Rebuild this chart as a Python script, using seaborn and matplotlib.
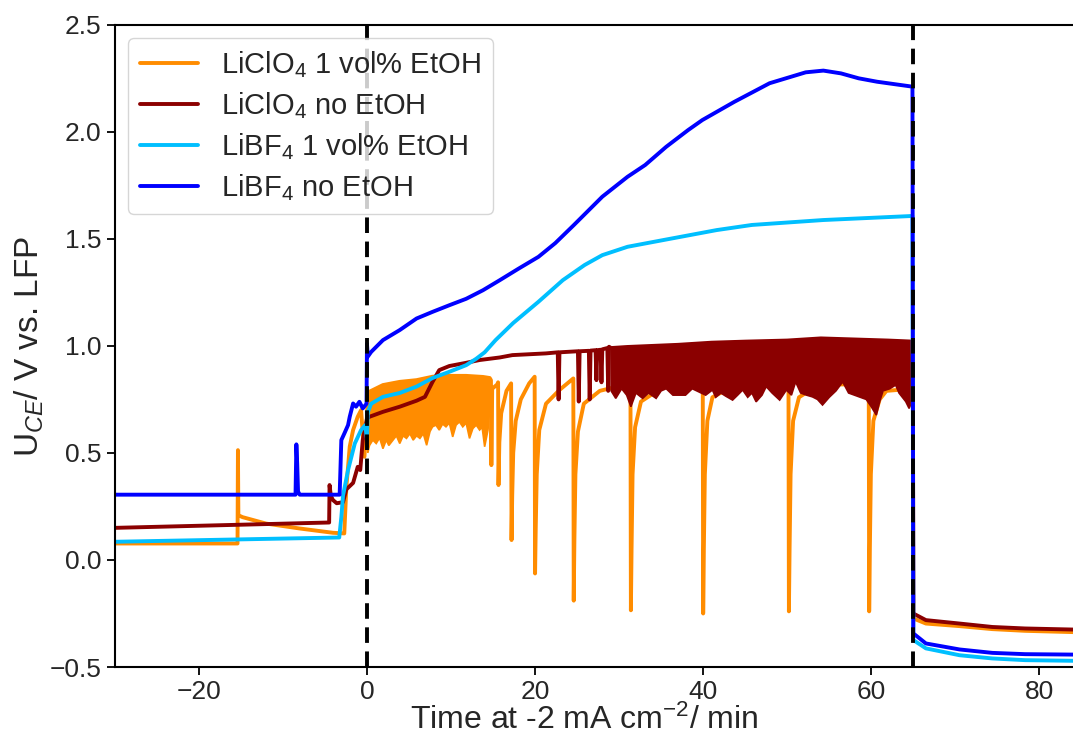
import numpy as np
import pandas as pd
import matplotlib
matplotlib.use("Agg")
import matplotlib.pyplot as plt
import seaborn as sns

# ---------------- data ----------------
labels = ["LiClO$_4$ 1 vol% EtOH", "LiClO$_4$ no EtOH",
          "LiBF$_4$ 1 vol% EtOH", "LiBF$_4$ no EtOH"]
colors = ["#FF8C00", "#8B0000", "#00BFFF", "#0000FF"]

clo4_etoh_t = [-30, -15.4, -15.35, -15.3, -14.8, -12, -8, -4.05, -2.7, -2.45,
               -2.05, -1.65, -1.1, -0.7, -0.3, 0.0, 0.1, 0.3, 1.9, 3.9,
               5.9, 7.8, 9.8, 11.8, 13.8, 14.6, 14.75, 14.8, 14.9, 15.5,
               15.6, 15.65, 15.75, 15.97, 16.6, 17.15, 17.2, 17.28, 17.4, 17.7, 18.3, 19.3,
               19.95, 20.0, 20.08, 20.2, 20.5, 21.3, 22.9, 24.55, 24.6, 24.68, 24.8, 25.1,
               25.8, 27.7, 31.35, 31.4, 31.48, 31.6, 31.9, 32.6, 35.6, 39.5,
               39.95, 40.0, 40.08, 40.2, 40.5, 41.1, 43.0, 46.0, 50.15, 50.2, 50.28,
               50.4, 50.7, 51.4, 53.0, 56.0, 59.7, 59.75, 59.83, 59.95, 60.25, 61.0, 61.8,
               64.95, 65.0, 66.5, 70.5, 74.4, 78.3, 84.0]
clo4_etoh_u = [0.077, 0.077, 0.513, 0.209, 0.20, 0.17, 0.147, 0.127, 0.124, 0.34,
               0.53, 0.607, 0.669, 0.70, 0.482, 0.67, 0.76, 0.786, 0.817, 0.832,
               0.84, 0.856, 0.86, 0.86, 0.855, 0.85, 0.84, 0.443, 0.80, 0.82,
               0.83, 0.35, 0.55, 0.685, 0.79, 0.825, 0.093, 0.30, 0.50, 0.65, 0.75, 0.825,
               0.856, -0.063, 0.15, 0.40, 0.607, 0.73, 0.794, 0.848, -0.19, 0.10, 0.40, 0.60,
               0.73, 0.79, 0.825, -0.235, 0.05, 0.40, 0.62, 0.74, 0.817, 0.84,
               0.84, -0.25, 0.05, 0.40, 0.65, 0.76, 0.80, 0.82, 0.83, -0.24, 0.05,
               0.40, 0.65, 0.76, 0.80, 0.82, 0.82, -0.24, 0.05, 0.40, 0.65, 0.75, 0.79,
               0.80, -0.273, -0.297, -0.309, -0.323, -0.331, -0.337]
# lower edge of the dense oscillation band of LiClO4 1 vol% EtOH
clo4_etoh_floor_t = [0.1, 0.3, 0.7, 1.1, 1.5, 1.9, 2.3, 2.6, 3.1, 3.5,
                     3.9, 4.3, 4.7, 5.1, 5.5, 5.9, 6.3, 6.7, 7.1, 7.5,
                     7.8, 8.2, 8.6, 9.0, 9.4, 9.8, 10.2, 10.6, 11.0, 11.4,
                     11.8, 12.2, 12.6, 13.0, 13.4, 13.7, 14.0, 14.4, 14.6]
clo4_etoh_floor_u = [0.50, 0.535, 0.56, 0.544, 0.57, 0.52, 0.56, 0.535, 0.56, 0.58,
                     0.544, 0.58, 0.568, 0.59, 0.56, 0.58, 0.568, 0.59, 0.536, 0.60,
                     0.622, 0.63, 0.607, 0.635, 0.622, 0.64, 0.575, 0.63, 0.645, 0.622,
                     0.64, 0.568, 0.614, 0.63, 0.607, 0.62, 0.529, 0.607, 0.70]

clo4_dry_t = [-30, -4.5, -4.45, -4.3, -4.05, -3.6, -2.85, -2.45, -1.65, -1.1,
              -0.8, -0.5, 0.0, 0.3, 1.9, 3.9, 5.9, 6.9, 7.8, 8.6,
              9.8, 11.8, 13.4, 15.8, 17.3, 21.3, 22.7, 22.8, 22.9, 25.1,
              25.2, 25.3, 26.4, 26.5, 26.6, 27.2, 27.3, 27.4, 27.8, 27.9,
              28.0, 28.6, 28.7, 28.8, 29.05, 31.0, 34.0, 37.0, 41.0, 45.0,
              50.0, 54.0, 58.0, 62.0, 64.95, 65.0, 66.5, 70.5, 74.4, 78.3,
              84.0]
clo4_dry_u = [0.15, 0.175, 0.35, 0.30, 0.28, 0.265, 0.27, 0.33, 0.36, 0.435,
              0.42, 0.56, 0.66, 0.669, 0.692, 0.716, 0.744, 0.762, 0.832, 0.887,
              0.906, 0.921, 0.934, 0.946, 0.957, 0.965, 0.97, 0.75, 0.97, 0.975,
              0.74, 0.975, 0.977, 0.75, 0.978, 0.98, 0.84, 0.98, 0.982, 0.83,
              0.984, 0.99, 0.79, 0.996, 0.99, 0.995, 1.0, 1.005, 1.015, 1.02,
              1.025, 1.035, 1.03, 1.025, 1.02, -0.25, -0.281, -0.297, -0.313, -0.32,
              -0.325]
# lower edge of the dense oscillation band of LiClO4 no EtOH
clo4_dry_floor_t = [29.05, 29.6, 30.3, 30.9, 31.4, 32.0, 32.8, 33.5, 34.4, 35.0,
                    35.6, 36.4, 37.2, 37.9, 38.7, 39.5, 40.3, 41.1, 41.5, 42.1,
                    42.7, 43.5, 44.1, 44.7, 45.3, 45.8, 46.3, 47.0, 47.5, 48.2,
                    49.1, 49.9, 50.5, 51.0, 51.6, 52.3, 53.0, 53.6, 54.2, 55.0,
                    55.8, 56.6, 57.3, 58.0, 58.7, 59.4, 60.0, 60.6, 61.0, 61.4,
                    62.2, 62.9, 63.3, 63.7, 64.1, 64.5, 64.95]
clo4_dry_floor_u = [0.79, 0.755, 0.80, 0.77, 0.716, 0.78, 0.755, 0.78, 0.755, 0.79,
                    0.80, 0.77, 0.77, 0.77, 0.80, 0.785, 0.77, 0.794, 0.76, 0.78,
                    0.765, 0.747, 0.77, 0.794, 0.76, 0.78, 0.739, 0.77, 0.81, 0.78,
                    0.747, 0.794, 0.77, 0.832, 0.78, 0.77, 0.762, 0.75, 0.724, 0.76,
                    0.79, 0.832, 0.78, 0.77, 0.76, 0.75, 0.716, 0.677, 0.74, 0.79,
                    0.80, 0.817, 0.78, 0.76, 0.74, 0.708, 0.75]

bf4_etoh_t = [-30, -3.3, -3.05, -2.85, -2.25, -1.45, -0.7, -0.2, 0.0, 0.1,
              0.5, 1.9, 3.9, 5.9, 7.8, 9.8, 11.8, 13.0, 14.0, 15.3,
              17.4, 20.4, 23.3, 25.9, 28.0, 31.0, 35.2, 41.6, 45.8, 54.3,
              64.9, 65.0, 66.5, 70.5, 74.4, 78.3, 84.0]
bf4_etoh_u = [0.085, 0.105, 0.2, 0.30, 0.42, 0.544, 0.607, 0.63, 0.56, 0.69,
              0.73, 0.762, 0.78, 0.81, 0.85, 0.879, 0.91, 0.94, 0.97, 1.027,
              1.107, 1.206, 1.307, 1.378, 1.424, 1.463, 1.494, 1.541, 1.565, 1.588,
              1.607, -0.374, -0.413, -0.445, -0.46, -0.468, -0.471]

bf4_dry_t = [-30, -8.5, -8.4, -8.3, -8.2, -8.0, -3.25, -3.05, -2.7, -2.25,
             -2.05, -1.65, -1.3, -0.9, -0.5, -0.05, 0.0, 0.1, 0.5, 1.9,
             3.9, 5.9, 7.8, 9.8, 11.8, 13.8, 15.8, 18.0, 20.4, 22.4,
             24.6, 28.0, 31.0, 33.1, 35.6, 38.2, 39.9, 43.7, 47.9, 52.2,
             54.3, 56.4, 58.5, 60.7, 64.9, 65.0, 66.5, 70.5, 74.4, 78.3,
             84.0]
bf4_dry_u = [0.305, 0.305, 0.54, 0.45, 0.32, 0.305, 0.305, 0.56, 0.59, 0.63,
             0.669, 0.731, 0.716, 0.739, 0.708, 0.73, 1.01, 0.95, 0.972, 1.027,
             1.074, 1.128, 1.159, 1.19, 1.22, 1.26, 1.307, 1.36, 1.416, 1.48,
             1.564, 1.697, 1.79, 1.845, 1.93, 2.008, 2.055, 2.14, 2.227, 2.278,
             2.286, 2.273, 2.25, 2.234, 2.211, -0.343, -0.39, -0.418, -0.434, -0.44,
             -0.442]

step_times = [0, 65]
x_ticks = [-20, 0, 20, 40, 60, 80]
y_ticks = [-0.5, 0.0, 0.5, 1.0, 1.5, 2.0, 2.5]

# ---------------- style ----------------
sns.set_theme(style="ticks")
plt.rcParams["font.family"] = ["Liberation Sans", "DejaVu Sans"]
plt.rcParams["mathtext.fontset"] = "custom"
plt.rcParams["mathtext.rm"] = "Liberation Sans"
plt.rcParams["mathtext.it"] = "Liberation Sans:italic"
plt.rcParams["mathtext.bf"] = "Liberation Sans:bold"
FS_TICK = 19
FS_XLAB = 23
FS_YLAB = 24
FS_LEG = 21

fig = plt.figure(figsize=(10.73, 7.38), dpi=100)
ax = fig.add_axes([0.107, 0.0962, 0.893, 0.8702])

series = [(clo4_etoh_t, clo4_etoh_u), (clo4_dry_t, clo4_dry_u),
          (bf4_etoh_t, bf4_etoh_u), (bf4_dry_t, bf4_dry_u)]
bands = {0: (clo4_etoh_floor_t, clo4_etoh_floor_u),
         1: (clo4_dry_floor_t, clo4_dry_floor_u)}

LW = 2.8
for i, ((t, u), lab, col) in enumerate(zip(series, labels, colors)):
    z = 2.0 + 0.1 * i
    df = pd.DataFrame({"t": t, "U": u})
    sns.lineplot(data=df, x="t", y="U", ax=ax, color=col, lw=LW, label=lab,
                 estimator=None, sort=False, zorder=z)
    if i in bands:
        ft, fu = bands[i]
        t_arr, u_arr = np.asarray(t), np.asarray(u)
        sel = (t_arr >= ft[0]) & (t_arr <= ft[-1])
        px = np.r_[t_arr[sel], np.asarray(ft)[::-1]]
        py = np.r_[u_arr[sel], np.asarray(fu)[::-1]]
        ax.fill(px, py, color=col, lw=1.2, zorder=z - 0.01)

for ts in step_times:
    ax.axvline(ts, color="black", lw=2.8, ls=(0, (4, 2.2)), zorder=4)

ax.set_xlim(-30, 84)
ax.set_ylim(-0.5, 2.5)
ax.set_xticks(x_ticks)
ax.set_yticks(y_ticks)
ax.tick_params(labelsize=FS_TICK, length=6, width=1.3, color="black")
for s in ["left", "bottom", "top"]:
    ax.spines[s].set_linewidth(1.5)
    ax.spines[s].set_color("black")
ax.spines["right"].set_visible(False)

ax.set_xlabel("Time at -2 mA cm$^{-2}$/ min", fontsize=FS_XLAB, labelpad=-1)
ax.xaxis.set_label_coords(0.49, -0.058)
ax.set_ylabel("U$_{CE}$/ V vs. LFP", fontsize=FS_YLAB, labelpad=3)

ax.legend(loc="upper left", fontsize=FS_LEG, frameon=True, labelspacing=0.34,
          borderaxespad=0.45)

fig.savefig("out.png", dpi=100)
